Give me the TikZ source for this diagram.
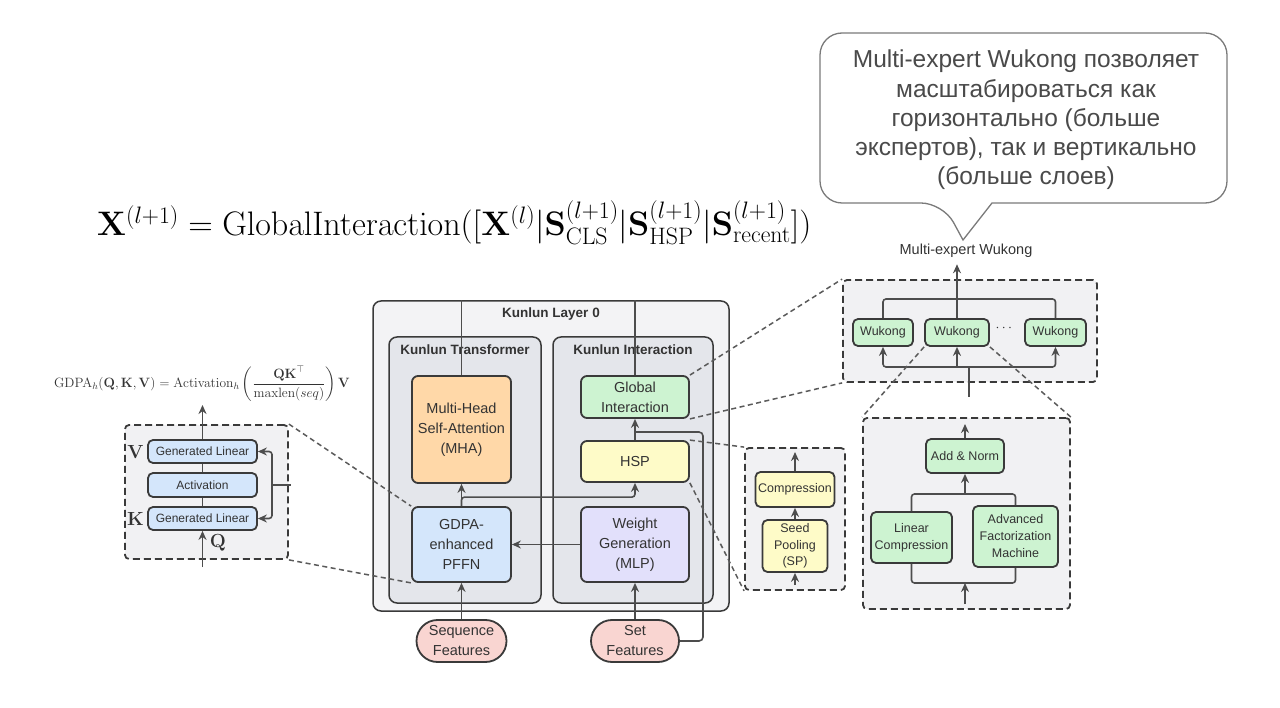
\RequirePackage{fix-cm}
\documentclass[tikz,border=0pt]{standalone}
\usepackage{amsmath}
\usepackage[no-math]{fontspec}
\setmainfont{Liberation Sans}
\usetikzlibrary{arrows.meta, positioning, calc}

\definecolor{cedge}{HTML}{3A3A3A}
\definecolor{ctext}{HTML}{333333}
\definecolor{cline}{HTML}{4D4D4D}
\definecolor{clink}{HTML}{5A5A5A}
\definecolor{clayer}{HTML}{F3F3F5}
\definecolor{cgroup}{HTML}{E4E6EB}
\definecolor{czoom}{HTML}{F1F1F3}
\definecolor{cmha}{HTML}{FFD8A8}
\definecolor{cblue}{HTML}{D4E6FB}
\definecolor{cgreen}{HTML}{CDF3D1}
\definecolor{cyellow}{HTML}{FEFBC8}
\definecolor{cpurple}{HTML}{E2E0FB}
\definecolor{cfeat}{HTML}{F9D5D1}
\definecolor{cnote}{HTML}{4A4A4A}
\definecolor{cbubble}{HTML}{7A7A7A}

\begin{document}
\begin{tikzpicture}[
    x=1pt, y=-1pt,
    >={Stealth[length=9pt, width=8pt]},
    box/.style={draw=cedge, line width=1.8pt, rounded corners=6pt, align=center,
                text=ctext, inner sep=0pt, font=\fontsize{14.5}{20}\selectfont},
    sbox/.style={box, rounded corners=5pt, font=\fontsize{12}{15}\selectfont},
    group/.style={draw=cedge, line width=1.5pt, rounded corners=8pt, inner sep=0pt},
    zoombox/.style={draw=cedge, line width=1.8pt, dash pattern=on 7pt off 4pt,
                    fill=czoom, rounded corners=4pt, inner sep=0pt},
    ttl/.style={font=\bfseries\fontsize{13.5}{15}\selectfont, text=ctext},
    feat/.style={box, rounded corners=21pt, fill=cfeat},
    qkv/.style={font=\fontsize{19}{20}\selectfont, text=ctext, inner sep=1pt},
    arr/.style={->, line width=1.6pt, draw=cline},
    wire/.style={line width=1.6pt, draw=cline},
    link/.style={line width=1.5pt, draw=clink, dash pattern=on 5pt off 3.5pt},
    bubble/.style={draw=cbubble, line width=1.3pt, fill=white},
]
\useasboundingbox (0,0) rectangle (1280,708);

% ---- callout ----
\draw[bubble] (820,120) [rounded corners=22pt] -- (820,203) -- (943,203)
    [sharp corners] -- (963,240) -- (992,203)
    [rounded corners=22pt] -- (1227,203) -- (1227,33) -- (820,33) -- cycle;
\node[font=\fontsize{24.5}{29.3}\selectfont, text=cnote, align=center] (note) at (1026,120)
    {Multi-expert Wukong позволяет\\масштабироваться как\\горизонтально (больше\\экспертов), так и вертикально\\(больше слоев)};

% ---- formula ----
\node[anchor=base west, inner sep=0pt, font=\fontsize{34}{38}\selectfont] (mainEq) at (97,236)
    {$\mathbf{X}^{(l+1)} = \mathrm{GlobalInteraction}([\mathbf{X}^{(l)}|\mathbf{S}^{(l+1)}_{\mathrm{CLS}}|\mathbf{S}^{(l+1)}_{\mathrm{HSP}}|\mathbf{S}^{(l+1)}_{\mathrm{recent}}])$};

% ---- Kunlun layer ----
\node[group, fill=clayer, minimum width=356pt, minimum height=310pt] (layer) at (551,456) {};
\node[group, fill=cgroup, minimum width=152pt, minimum height=266pt] (trans) at (465,470) {};
\node[group, fill=cgroup, minimum width=160pt, minimum height=266pt] (inter) at (633,470) {};
\node[ttl] (layerttl) at (551,314) {Kunlun Layer 0};
\node[ttl] (transttl) at (465,350) {Kunlun Transformer};
\node[ttl] (interttl) at (633,350) {Kunlun Interaction};

\node[box, fill=cmha, minimum width=99pt, minimum height=107pt] (mha) at (461.5,429.5) {Multi-Head\\Self-Attention\\(MHA)};
\node[box, fill=cblue, minimum width=99pt, minimum height=75pt] (gdpa) at (461.5,544.5) {GDPA-\\enhanced\\PFFN};
\node[box, fill=cgreen, minimum width=108pt, minimum height=42pt] (gi) at (635,397) {Global\\Interaction};
\node[box, fill=cyellow, minimum width=108pt, minimum height=41pt] (hsp) at (635,461.5) {HSP};
\node[box, fill=cpurple, minimum width=108pt, minimum height=75pt] (wg) at (635,544.5) {Weight\\Generation\\(MLP)};
\node[feat, minimum width=90pt, minimum height=42pt] (seqf) at (461.5,641) {Sequence\\Features};
\node[feat, minimum width=88pt, minimum height=42pt] (setf) at (635,641) {Set\\Features};

\draw[wire] (mha.north) -- (mha.north |- layer.north);
\draw[wire] (gi.north) -- (gi.north |- layer.north);
\draw[arr] (gdpa.north) -- (mha.south);
\draw[arr, rounded corners=3pt] (gdpa.north) -- ++(0,-9) -| (hsp.south);
\draw[arr] (hsp.north) -- (gi.south);
\draw[arr] (wg.west) -- (gdpa.east);
\draw[arr] (seqf.north) -- (gdpa.south);
\draw[arr] (setf.north) -- (wg.south);
\coordinate (loop) at (703,432);
\draw[wire, rounded corners=4pt] (setf.east) -| (loop) -- (loop -| gi.south);

% ---- GDPA detail ----
\node[zoombox, minimum width=163pt, minimum height=134pt] (gdpazoom) at (206.5,492) {};
\node[sbox, fill=cblue, minimum width=109pt, minimum height=23pt] (glv) at (202.5,451.5) {Generated Linear};
\node[sbox, fill=cblue, minimum width=109pt, minimum height=24pt] (act) at (202.5,485) {Activation};
\node[sbox, fill=cblue, minimum width=109pt, minimum height=23pt] (glk) at (202.5,518.5) {Generated Linear};
\node[qkv, left=2pt of glv] (vlbl) {$\mathbf{V}$};
\node[qkv, left=2pt of glk] (klbl) {$\mathbf{K}$};
\node[qkv] (qlbl) at (218,543) {$\mathbf{Q}$};
\node[font=\fontsize{13.5}{16}\selectfont, text=ctext] (gdpaeq) at (202,384)
    {$\mathrm{GDPA}_h(\mathbf{Q},\mathbf{K},\mathbf{V}) = \mathrm{Activation}_h\left(\dfrac{\mathbf{QK}^\top}{\mathrm{maxlen}(seq)}\right)\mathbf{V}$};
\coordinate (qin) at (202.5,567);
\coordinate (gout) at (202.5,405);
\coordinate (fb) at (272,485);
\draw[arr] (qin) -- (glk.south);
\draw[wire] (glk.north) -- (act.south);
\draw[wire] (act.north) -- (glv.south);
\draw[arr] (glv.north) -- (gout);
\draw[arr, rounded corners=3pt] (fb) |- (glv.east);
\draw[arr, rounded corners=3pt] (fb) |- (glk.east);
\draw[wire] (fb) -- ($(gdpazoom.east |- fb)+(2,0)$);

% ---- seed pooling detail ----
\node[zoombox, minimum width=100pt, minimum height=142pt] (spzoom) at (795,519) {};
\node[sbox, fill=cyellow, minimum width=79pt, minimum height=35pt, font=\fontsize{12.5}{15}\selectfont] (comp) at (795,489.5) {Compression};
\node[sbox, fill=cyellow, minimum width=65pt, minimum height=52pt, font=\fontsize{12.5}{16.7}\selectfont] (seed) at (795,546) {Seed\\Pooling\\(SP)};
\coordinate (spout) at (795,452);
\coordinate (spin) at (795,585);
\draw[arr] (comp.north) -- (spout);
\draw[arr] (seed.north) -- (comp.south);
\draw[arr] (spin) -- (seed.south);

% ---- Wukong detail ----
\node[zoombox, minimum width=254pt, minimum height=102pt] (wkzoom) at (970,331) {};
\node[sbox, fill=cgreen, minimum width=60pt, minimum height=27pt, font=\fontsize{12.5}{15}\selectfont] (wk1) at (883,332.5) {Wukong};
\node[sbox, fill=cgreen, minimum width=64pt, minimum height=27pt, font=\fontsize{12.5}{15}\selectfont] (wk2) at (957,332.5) {Wukong};
\node[sbox, fill=cgreen, minimum width=61pt, minimum height=27pt, font=\fontsize{12.5}{15}\selectfont] (wk3) at (1055.5,332.5) {Wukong};
\node[text=ctext, font=\fontsize{14}{15}\selectfont] (wkdots) at (1005,328) {$\cdots$};
\node[text=ctext, font=\fontsize{14.5}{16}\selectfont] (mewlbl) at (966,251) {Multi-expert Wukong};
\coordinate (wktop) at (957,299);
\coordinate (wkbot) at (969,367);
\coordinate (wkin) at (969,397);
\draw[wire, rounded corners=3pt] (wk1.north) |- (wktop) -| (wk3.north);
\draw[wire] (wk2.north) -- (wktop);
\draw[arr, shorten >=3pt] (wktop) -- (wktop |- mewlbl.south);
\draw[arr, rounded corners=3pt] (wkbot) -| (wk1.south);
\draw[arr, rounded corners=3pt] (wkbot) -| (wk3.south);
\draw[arr] (wk2.south |- wkbot) -- (wk2.south);
\draw[wire] (wkin) -- (wkbot);

% ---- AFM detail ----
\node[zoombox, minimum width=207pt, minimum height=191pt] (afmzoom) at (966.5,513.5) {};
\node[sbox, fill=cgreen, minimum width=78pt, minimum height=34pt, font=\fontsize{12.5}{15}\selectfont] (addn) at (965,456) {Add \& Norm};
\node[sbox, fill=cgreen, minimum width=81pt, minimum height=51pt, font=\fontsize{12.5}{17}\selectfont] (lincomp) at (911.5,537.5) {Linear\\Compression};
\node[sbox, fill=cgreen, minimum width=85pt, minimum height=61pt, font=\fontsize{12.5}{17}\selectfont] (afm) at (1015.5,536.5) {Advanced\\Factorization\\Machine};
\coordinate (afmjoin) at (965,494);
\coordinate (afmsplit) at (965,583);
\coordinate (afmout) at (965,424);
\coordinate (afmin) at (965,604);
\draw[wire, rounded corners=3pt] (lincomp.north) |- (afmjoin) -| (afm.north);
\draw[arr] (afmjoin) -- (addn.south);
\draw[arr] (addn.north) -- (afmout);
\draw[wire, rounded corners=3pt] (lincomp.south) |- (afmsplit) -| (afm.south);
\draw[arr] (afmin) -- (afmsplit);

% ---- zoom links ----
\draw[link] (gdpazoom.north east) -- (gdpa.north west);
\draw[link] (gdpazoom.south east) -- (gdpa.south west);
\draw[link] (hsp.north east) -- (spzoom.north west);
\draw[link] (hsp.south east) -- (spzoom.south west);
\draw[link] (gi.north east) -- (wkzoom.north west);
\draw[link] (gi.south east) -- (wkzoom.south west);
\draw[link] (wk2.south west) -- (afmzoom.north west);
\draw[link] (wk2.south east) -- (afmzoom.north east);
\end{tikzpicture}
\end{document}
